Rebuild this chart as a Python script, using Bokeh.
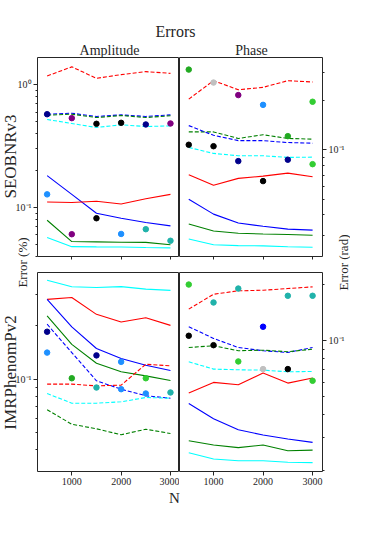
import math
from bokeh.plotting import figure
from bokeh.models import Range1d, FixedTicker, Label, ColumnDataSource
from bokeh.layouts import column, row
from bokeh.embed import file_html
from bokeh.resources import INLINE

FONT = "Liberation Serif"

# ---------------- data ----------------
N = [500, 1000, 1500, 2000, 2500, 3000]
x_ticks = [1000, 2000, 3000]

# SEOBNRv3 - amplitude error (%)
seob_amp_red_dash = [1.18, 1.40, 1.13, 1.21, 1.28, 1.24]
seob_amp_blue_dash = [0.576, 0.587, 0.552, 0.569, 0.552, 0.569]
seob_amp_green_dash = [0.565, 0.576, 0.541, 0.562, 0.541, 0.559]
seob_amp_cyan_dash = [0.522, 0.484, 0.449, 0.472, 0.457, 0.463]
seob_amp_blue = [0.182, 0.128, 0.0899, 0.0818, 0.0755, 0.0709]
seob_amp_red = [0.111, 0.110, 0.1125, 0.107, 0.118, 0.128]
seob_amp_green = [0.0788, 0.0528, 0.0525, 0.0522, 0.0520, 0.0497]
seob_amp_cyan = [0.057, 0.048, 0.0478, 0.0477, 0.0472, 0.0469]
seob_amp_pts_n = [500, 1000, 1500, 2000, 2500, 3000, 500, 1500, 1000, 2000, 2500, 3000]
seob_amp_pts_v = [0.576, 0.535, 0.481, 0.49, 0.475, 0.484, 0.128, 0.0818, 0.0606, 0.0609, 0.0666, 0.0536]
seob_amp_pts_c = ["#00008b", "#800080", "black", "black", "#00008b", "#800080",
                  "#1e90ff", "black", "#800080", "#1e90ff", "#20b2aa", "#20b2aa"]

# SEOBNRv3 - phase error (rad)
seob_ph_red_dash = [0.205, 0.266, 0.234, 0.242, 0.266, 0.261]
seob_ph_green_dash = [0.129, 0.129, 0.1176, 0.124, 0.1176, 0.1165]
seob_ph_blue_dash = [0.141, 0.123, 0.114, 0.114, 0.111, 0.110]
seob_ph_cyan_dash = [0.1036, 0.0952, 0.0921, 0.0921, 0.090, 0.0903]
seob_ph_red = [0.0705, 0.0608, 0.0669, 0.0691, 0.0721, 0.0685]
seob_ph_blue = [0.0499, 0.0404, 0.0356, 0.0340, 0.0327, 0.0322]
seob_ph_green = [0.0351, 0.0318, 0.0308, 0.0305, 0.0303, 0.0300]
seob_ph_cyan = [0.0284, 0.0262, 0.0259, 0.0258, 0.0255, 0.0253]
seob_ph_pts_n = [500, 1000, 1500, 2000, 3000, 2500, 500, 1000, 1500, 2500, 3000, 2000]
seob_ph_pts_v = [0.311, 0.259, 0.217, 0.189, 0.1975, 0.1215, 0.1076, 0.1054, 0.0854, 0.0871, 0.0818, 0.0644]
seob_ph_pts_c = ["#22aa22", "#c0c0c0", "#800080", "#1e90ff", "#32cd32", "#22aa22",
                 "black", "black", "#00008b", "#00008b", "#32cd32", "black"]

# IMRPhenomPv2 - amplitude error (%)
imr_amp_cyan = [0.362, 0.332, 0.329, 0.333, 0.322, 0.317]
imr_amp_red = [0.282, 0.289, 0.232, 0.210, 0.222, 0.201]
imr_amp_blue = [0.282, 0.197, 0.1487, 0.1306, 0.1197, 0.1117]
imr_amp_green = [0.2275, 0.157, 0.1228, 0.1098, 0.1042, 0.098]
imr_amp_blue_dash = [0.204, 0.141, 0.0977, 0.0876, 0.0804, 0.0779]
imr_amp_red_dash = [0.0935, 0.0935, 0.0915, 0.0923, 0.1212, 0.1187]
imr_amp_cyan_dash = [0.0828, 0.073, 0.073, 0.0743, 0.0786, 0.0779]
imr_amp_green_dash = [0.067, 0.0555, 0.0523, 0.0484, 0.052, 0.0492]
imr_amp_pts_n = [500, 500, 1000, 1500, 1500, 2000, 2000, 2500, 2500, 3000]
imr_amp_pts_v = [0.185, 0.141, 0.101, 0.136, 0.0895, 0.125, 0.0876, 0.101, 0.0828, 0.0839]
imr_amp_pts_c = ["#00008b", "#1e90ff", "#22aa22", "#00008b", "#20b2aa", "#1e90ff",
                 "#1e90ff", "#32cd32", "#1e90ff", "#20b2aa"]

# IMRPhenomPv2 - phase error (rad)
imr_ph_red_dash = [0.148, 0.178, 0.1857, 0.187, 0.191, 0.195]
imr_ph_blue_dash = [0.119, 0.103, 0.092, 0.0884, 0.0865, 0.092]
imr_ph_green_dash = [0.092, 0.094, 0.0884, 0.089, 0.0873, 0.0901]
imr_ph_cyan_dash = [0.0771, 0.0704, 0.0698, 0.0695, 0.0681, 0.0684]
imr_ph_red = [0.0523, 0.0597, 0.058, 0.067, 0.0592, 0.063]
imr_ph_blue = [0.046, 0.0381, 0.0332, 0.0311, 0.0296, 0.0284]
imr_ph_green = [0.029, 0.0275, 0.0266, 0.0275, 0.0256, 0.0258]
imr_ph_cyan = [0.025, 0.0231, 0.0226, 0.0226, 0.0222, 0.0221]
imr_ph_pts_n = [500, 1000, 1500, 2500, 3000, 2000, 500, 1000, 1500, 2000, 2500, 3000]
imr_ph_pts_v = [0.2007, 0.1607, 0.191, 0.1746, 0.1746, 0.119, 0.1064, 0.0947, 0.0774, 0.0704, 0.0704, 0.0609]
imr_ph_pts_c = ["#32cd32", "#20b2aa", "#20b2aa", "#20b2aa", "#20b2aa", "#0000ff",
                "black", "black", "#32cd32", "#c0c0c0", "black", "#32cd32"]

# ---------------- panels ----------------
def minor_list(lo, hi):
    out = []
    for dec in (0.01, 0.1, 1.0):
        for k in range(2, 10):
            v = k * dec
            if lo < v < hi:
                out.append(round(v, 4))
    return out


def panel(width, height, borders, xr, yr, side, show_xlabels, lines, pts):
    p = figure(width=width, height=height, x_range=Range1d(*xr), y_range=Range1d(*yr),
               y_axis_type="log", y_axis_location=side, x_axis_location="below",
               output_backend="svg", toolbar_location=None)
    p.min_border_top, p.min_border_right, p.min_border_bottom, p.min_border_left = borders
    p.outline_line_color = "#262626"
    p.outline_line_width = 1
    p.background_fill_color = "white"
    p.border_fill_color = None
    p.xgrid.visible = False
    p.ygrid.visible = False

    majors = [t for t in (0.1, 1.0) if yr[0] < t < yr[1]]
    p.yaxis.ticker = FixedTicker(ticks=majors, minor_ticks=minor_list(*yr))
    p.yaxis.major_label_overrides = {0.1: "10\u207b\u00b9", 1.0: "10\u2070"}
    if show_xlabels:
        p.xaxis.ticker = FixedTicker(ticks=x_ticks, minor_ticks=[])
    else:
        # tick marks only (no labels) on the upper row
        p.xaxis.ticker = FixedTicker(ticks=[], minor_ticks=x_ticks)
    for ax in (p.xaxis[0], p.yaxis[0]):
        ax.axis_line_color = None
        ax.major_tick_line_color = "#262626"
        ax.minor_tick_line_color = "#262626"
        ax.major_tick_in = 0
        ax.minor_tick_in = 0
        ax.major_tick_out = 4
        ax.minor_tick_out = 2
        ax.major_label_text_font = FONT
        ax.major_label_text_font_size = "10px"
        ax.major_label_text_color = "#262626"
        ax.major_label_standoff = 2
    if not show_xlabels:
        p.xaxis.minor_tick_out = 3
        p.xaxis.major_label_standoff = 0

    for vals, color, dashed in lines:
        p.line(N, vals, line_color=color, line_width=1.1,
               line_dash="4 2" if dashed else "solid")
    n, v, c = pts
    src = ColumnDataSource(dict(x=n, y=v, c=c))
    p.scatter("x", "y", source=src, size=5.5, fill_color="c", line_color="c", marker="circle")
    return p


XL = (305, 3183)
XR = (313, 3200)

tl = panel(179, 270, (57, 0, 14, 37), XL, (0.0399, 1.669), "left", False, [
    (seob_amp_red_dash, "red", True), (seob_amp_blue_dash, "blue", True),
    (seob_amp_green_dash, "green", True), (seob_amp_cyan_dash, "cyan", True),
    (seob_amp_blue, "blue", False), (seob_amp_red, "red", False),
    (seob_amp_green, "green", False), (seob_amp_cyan, "cyan", False)],
    (seob_amp_pts_n, seob_amp_pts_v, seob_amp_pts_c))

tr = panel(171, 270, (57, 28, 14, 0), XR, (0.0222, 0.369), "right", False, [
    (seob_ph_red_dash, "red", True), (seob_ph_green_dash, "green", True),
    (seob_ph_blue_dash, "blue", True), (seob_ph_cyan_dash, "cyan", True),
    (seob_ph_red, "red", False), (seob_ph_blue, "blue", False),
    (seob_ph_green, "green", False), (seob_ph_cyan, "cyan", False)],
    (seob_ph_pts_n, seob_ph_pts_v, seob_ph_pts_c))

bl = panel(179, 237, (2, 0, 36, 37), XL, (0.0300, 0.400), "left", True, [
    (imr_amp_cyan, "cyan", False), (imr_amp_red, "red", False),
    (imr_amp_blue, "blue", False), (imr_amp_green, "green", False),
    (imr_amp_blue_dash, "blue", True), (imr_amp_red_dash, "red", True),
    (imr_amp_cyan_dash, "cyan", True), (imr_amp_green_dash, "green", True)],
    (imr_amp_pts_n, imr_amp_pts_v, imr_amp_pts_c))

br = panel(171, 237, (2, 28, 36, 0), XR, (0.0198, 0.233), "right", True, [
    (imr_ph_red_dash, "red", True), (imr_ph_blue_dash, "blue", True),
    (imr_ph_green_dash, "green", True), (imr_ph_cyan_dash, "cyan", True),
    (imr_ph_red, "red", False), (imr_ph_blue, "blue", False),
    (imr_ph_green, "green", False), (imr_ph_cyan, "cyan", False)],
    (imr_ph_pts_n, imr_ph_pts_v, imr_ph_pts_c))

# ---------------- overlay with the shared texts (page pixel coordinates) ----------------
ov = figure(width=350, height=532, x_range=Range1d(8, 358), y_range=Range1d(540, 8),
            x_axis_location=None, y_axis_location=None,
            output_backend="svg", toolbar_location=None, min_border=0)
ov.outline_line_color = None
ov.background_fill_color = None
ov.border_fill_color = None
ov.xgrid.visible = False
ov.ygrid.visible = False
ov.margin = (-507, 0, 0, 0)

texts = [
    ("Errors", 183, 39, 16, 0),
    ("Amplitude", 117, 58, 14, 0),
    ("Phase", 259, 58, 14, 0),
    ("N", 182, 505, 15, 0),
    ("SEOBNRv3", 18, 164, 17, math.pi / 2),
    ("IMRPhenomPv2", 18, 380, 17, math.pi / 2),
    ("Error (%)", 30, 270, 13, math.pi / 2),
    ("Error (rad)", 351, 270, 13, math.pi / 2),
]
for t, x, y, s, a in texts:
    ov.add_layout(Label(x=x, y=y, text=t, text_font=FONT, text_font_size=f"{s}px",
                        text_align="center", text_baseline="middle", angle=a,
                        text_color="#262626"))

layout = column(row(tl, tr), row(bl, br), ov)
open("out.html", "w").write(file_html(layout, INLINE))
